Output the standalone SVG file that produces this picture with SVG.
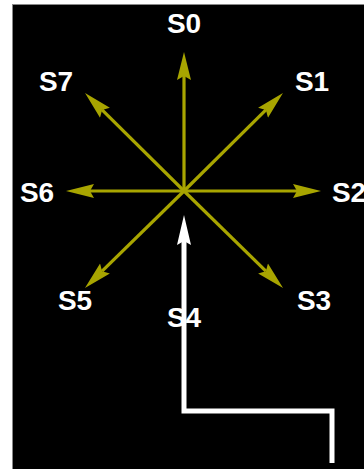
<svg xmlns="http://www.w3.org/2000/svg" width="364" height="469" viewBox="0 0 364 469">
<style>
.lbl{font-family:"Liberation Sans",Arial,sans-serif;font-weight:bold;font-size:28px;fill:#ffffff;text-anchor:middle}
.ray{stroke:#a8a500;stroke-width:3.2;fill:none;marker-end:url(#ya)}
.wire{stroke:#ffffff;stroke-width:5;fill:none;stroke-linejoin:miter;marker-end:url(#wa)}
</style>
<defs>
<marker id="ya" markerUnits="userSpaceOnUse" markerWidth="30" markerHeight="16" viewBox="0 -8 30 16" refX="4" refY="0" orient="auto">
<path d="M0,-7 L28,0 L0,7 L4,0 Z" fill="#a8a500"/>
</marker>
<marker id="wa" markerUnits="userSpaceOnUse" markerWidth="34" markerHeight="18" viewBox="0 -9 34 18" refX="4" refY="0" orient="auto">
<path d="M0,-7 L30,0 L0,7 L4,0 Z" fill="#ffffff"/>
</marker>
</defs>
<rect x="0" y="0" width="364" height="469" fill="#ffffff"/>
<rect x="12.5" y="4.5" width="352" height="465" fill="#000000" stroke="#888888" stroke-width="1"/>
<g id="connectors">
<line class="ray" x1="184" y1="191" x2="184" y2="76"/>
<line class="ray" x1="184" y1="191" x2="265.9" y2="109.9"/>
<line class="ray" x1="184" y1="191" x2="297" y2="191"/>
<line class="ray" x1="184" y1="191" x2="265.9" y2="271.2"/>
<line class="ray" x1="184" y1="191" x2="102.1" y2="271.2"/>
<line class="ray" x1="184" y1="191" x2="90" y2="191"/>
<line class="ray" x1="184" y1="191" x2="102.1" y2="109.9"/>
<polyline class="wire" points="332,463 332,411 184,411 184,241"/>
</g>
<g id="S0"><text class="lbl" x="184" y="33">S0</text></g>
<g id="S1"><text class="lbl" x="312" y="91">S1</text></g>
<g id="S2"><text class="lbl" x="349" y="202">S2</text></g>
<g id="S3"><text class="lbl" x="314" y="310">S3</text></g>
<g id="S4"><text class="lbl" x="184" y="327">S4</text></g>
<g id="S5"><text class="lbl" x="75" y="310">S5</text></g>
<g id="S6"><text class="lbl" x="37" y="202">S6</text></g>
<g id="S7"><text class="lbl" x="56" y="91">S7</text></g>
</svg>
